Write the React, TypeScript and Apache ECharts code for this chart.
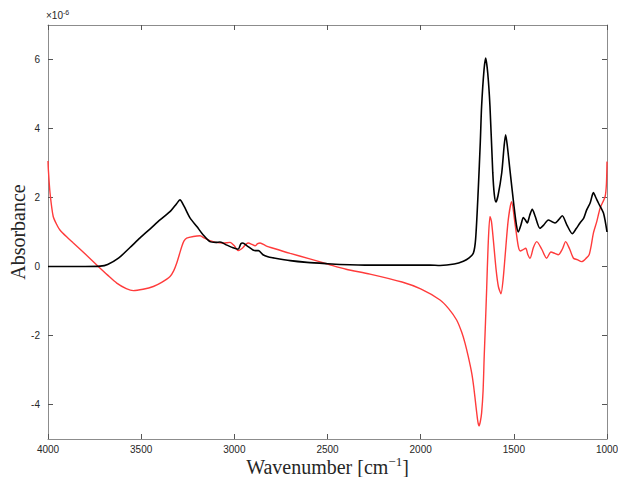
import React, { useEffect, useRef } from "react";
import * as echarts from "echarts";

const blackWavenumbers = [4000,3900,3800,3720,3680,3620,3560,3506,3450,3399,3340,3310,3292,3270,3238,3200,3168,3131,3100,3077,3040,3007,2980,2965,2955,2932,2900,2880,2870,2846,2820,2792,2700,2610,2500,2433,2272,2100,1950,1896,1820,1771,1740,1717,1705,1691,1680,1673,1660,1651,1640,1628,1613,1605,1596,1585,1565,1552,1544,1535,1521,1499,1486,1476,1462,1449,1438,1428,1415,1401,1385,1360,1340,1315,1295,1279,1260,1240,1215,1186,1165,1145,1125,1109,1090,1073,1060,1046,1019,1000];
const blackValues = [0,0,0,0.01,0.06,0.25,0.55,0.83,1.1,1.35,1.62,1.82,1.93,1.75,1.41,1.15,0.92,0.72,0.7,0.71,0.62,0.54,0.5,0.66,0.68,0.6,0.48,0.46,0.46,0.34,0.28,0.25,0.17,0.12,0.08,0.06,0.04,0.04,0.04,0.03,0.07,0.15,0.25,0.39,0.8,2.22,3.6,4.64,5.7,6.04,5.6,4.64,2.72,2.1,1.87,2.05,2.71,3.5,3.82,3.5,2.8,1.74,1.2,1.0,1.2,1.42,1.35,1.26,1.48,1.66,1.45,1.11,1.2,1.35,1.3,1.26,1.35,1.47,1.2,0.95,1.1,1.26,1.4,1.64,1.85,2.14,2.0,1.84,1.55,1.0];

const redWavenumbers = [4000,3998,3989,3972,3950,3936,3900,3864,3800,3730,3680,3631,3580,3542,3490,3435,3390,3345,3325,3309,3295,3282,3270,3256,3220,3184,3160,3131,3100,3059,3023,3000,2979,2965,2952,2935,2925,2905,2889,2875,2862,2830,2791,2700,2600,2487,2400,2272,2100,2000,1896,1850,1807,1780,1762,1745,1726,1715,1703,1693,1687,1680,1673,1665,1659,1652,1646,1638,1628,1620,1610,1595,1583,1569,1558,1547,1530,1512,1494,1476,1465,1453,1436,1425,1413,1395,1377,1350,1324,1301,1280,1261,1240,1222,1200,1180,1160,1136,1110,1096,1085,1073,1055,1037,1010,1003,1000];
const redValues = [3.06,2.8,2.13,1.45,1.18,1.06,0.86,0.68,0.36,0,-0.25,-0.48,-0.64,-0.7,-0.66,-0.58,-0.46,-0.29,-0.12,0.1,0.35,0.58,0.74,0.82,0.87,0.89,0.82,0.75,0.7,0.68,0.7,0.6,0.46,0.5,0.56,0.66,0.68,0.64,0.6,0.66,0.68,0.6,0.53,0.38,0.23,0.05,-0.08,-0.22,-0.45,-0.65,-0.97,-1.22,-1.55,-1.9,-2.22,-2.6,-3.09,-3.5,-4.06,-4.5,-4.62,-4.5,-4.25,-3.6,-2.61,-1.6,-0.68,0.6,1.45,1.3,0.77,-0.1,-0.58,-0.79,-0.4,0.29,1.35,1.88,1.26,0.58,0.45,0.48,0.53,0.35,0.24,0.55,0.72,0.5,0.24,0.42,0.38,0.34,0.5,0.72,0.5,0.24,0.2,0.14,0.25,0.34,0.6,0.97,1.3,1.69,2.03,2.4,3.04];

const xTicks = [4000, 3500, 3000, 2500, 2000, 1500, 1000];
const yTicks = [-4, -2, 0, 2, 4, 6];

export default function App() {
  const ref = useRef<HTMLDivElement>(null);
  useEffect(() => {
    if (!ref.current) return;
    const chart = echarts.init(ref.current, null, { renderer: "svg" });
    const axisColor = "#8c8c8c";
    const tickColor = "#555555";
    const labelColor = "#262626";
    const xBase = {
      type: "value" as const,
      min: 1000,
      max: 4000,
      interval: 500,
      inverse: true,
      splitLine: { show: false },
      axisLine: { show: true, onZero: false, lineStyle: { color: axisColor, width: 1 } },
      axisTick: { show: true, inside: true, length: 5, lineStyle: { color: tickColor } },
    };
    const yBase = {
      type: "value" as const,
      min: -5,
      max: 7,
      splitLine: { show: false },
      axisLine: { show: true, onZero: false, lineStyle: { color: axisColor, width: 1 } },
      axisTick: { show: true, inside: true, length: 5, lineStyle: { color: tickColor }, customValues: yTicks },
    };
    chart.setOption({
      animation: false,
      grid: { left: 48, right: 11, top: 25, bottom: 38, containLabel: false, outerBoundsMode: "none" },
      xAxis: [
        {
          ...xBase,
          position: "bottom",
          axisLabel: { show: true, formatter: (v: number) => String(v), color: labelColor, fontSize: 10, fontFamily: "Liberation Sans, Arial", margin: 5 },
          name: "{a|Wavenumber [cm}{s|−1}{a|]}",
          nameLocation: "middle",
          nameGap: 16,
          nameMoveOverlap: false,
          nameTextStyle: {
            rich: {
              a: { fontFamily: "Liberation Serif, serif", fontSize: 20, color: "#262626" },
              s: { fontFamily: "Liberation Serif, serif", fontSize: 13, color: "#262626", verticalAlign: "top", padding: [0, 0, 10, 0] },
            },
          },
        },
        {
          ...xBase,
          position: "top",
          axisLabel: { show: false },
        },
      ],
      yAxis: [
        {
          ...yBase,
          position: "left",
          axisLabel: { show: true, customValues: yTicks, formatter: (v: number) => String(v), color: labelColor, fontSize: 10, fontFamily: "Liberation Sans, Arial", margin: 8 },
          name: "Absorbance",
          nameLocation: "middle",
          nameGap: 20,
          nameMoveOverlap: false,
          nameTextStyle: { fontFamily: "Liberation Serif, serif", fontSize: 20, color: "#262626" },
        },
        {
          ...yBase,
          position: "right",
          axisLabel: { show: false },
        },
      ],
      graphic: [
        {
          type: "text",
          left: 46,
          top: 9,
          style: {
            text: "{a|×10}{s|-6}",
            rich: {
              a: { fontFamily: "Liberation Sans, Arial", fontSize: 10, fill: labelColor },
              s: { fontFamily: "Liberation Sans, Arial", fontSize: 7, fill: labelColor, verticalAlign: "top", padding: [0, 0, 6, 0] },
            },
          },
        },
      ],
      series: [
        {
          type: "line",
          name: "black",
          xAxisIndex: 0,
          yAxisIndex: 0,
          data: blackWavenumbers.map((w, i) => [w, blackValues[i]]),
          showSymbol: false,
          smooth: 0.25,
          lineStyle: { color: "#000000", width: 1.6 },
          z: 3,
        },
        {
          type: "line",
          name: "red",
          xAxisIndex: 0,
          yAxisIndex: 0,
          data: redWavenumbers.map((w, i) => [w, redValues[i]]),
          showSymbol: false,
          smooth: 0.25,
          lineStyle: { color: "#ff3b3b", width: 1.4 },
          z: 2,
        },
      ],
    });
    return () => chart.dispose();
  }, []);
  return <div ref={ref} style={{ width: 618, height: 477, position: "absolute", left: 0, top: 0 }} />;
}
